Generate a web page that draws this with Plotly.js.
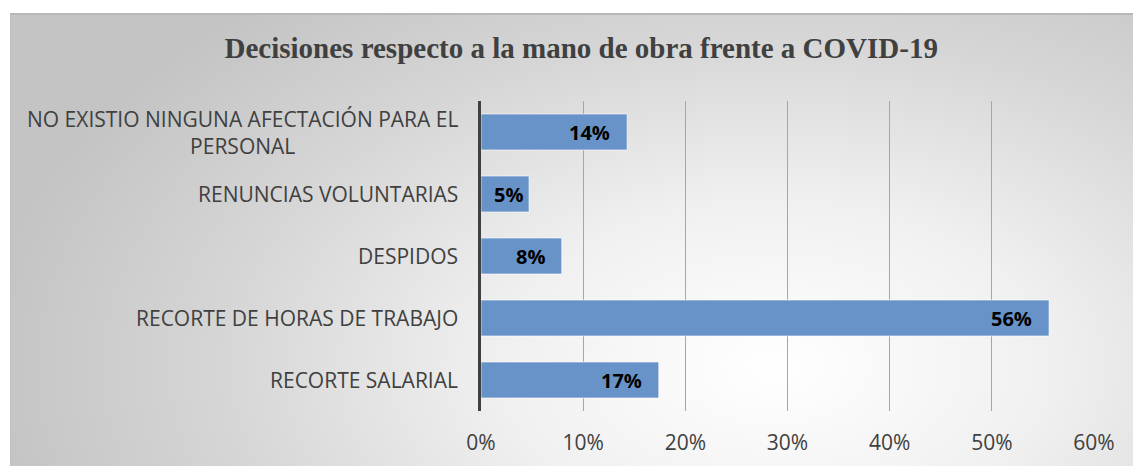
<!DOCTYPE html>
<html>
<head>
<meta charset="utf-8">
<script src="https://cdn.plot.ly/plotly-3.0.1.min.js"></script>
<style>
  html, body { margin: 0; padding: 0; background: #ffffff; }
  #wrap { position: relative; width: 1133px; height: 466px; overflow: hidden; }
  #bg {
    position: absolute; left: 10px; top: 13px; width: 1123px; height: 453px;
    border-top: 2px solid #b8b8b8; border-left: 1px solid #c0c0c0; box-sizing: border-box;
    background: radial-gradient(ellipse 70% 105% at 68% 78%, #ffffff 0%, #f0f0f0 35%, #d6d6d6 70%, #c4c4c4 100%);
  }
  #chart { position: absolute; left: 0; top: 0; width: 1133px; height: 466px; }
</style>
</head>
<body>
<div id="wrap">
  <div id="bg"></div>
  <div id="chart"></div>
</div>
<script>
const categories = [
  "NO EXISTIO NINGUNA AFECTACIÓN PARA EL<br>PERSONAL",
  "RENUNCIAS VOLUNTARIAS",
  "DESPIDOS",
  "RECORTE DE HORAS DE TRABAJO",
  "RECORTE SALARIAL"
];
const values = [0.143, 0.047, 0.079, 0.556, 0.174];
const valueLabels = ["14%", "5%", "8%", "56%", "17%"];
const tickValues = [0, 0.1, 0.2, 0.3, 0.4, 0.5, 0.6];
const tickLabels = ["0%", "10%", "20%", "30%", "40%", "50%", "60%"];
const chartTitle = "Decisiones respecto a la mano de obra frente a COVID-19";

const trace = {
  type: "bar",
  orientation: "h",
  x: values,
  y: categories,
  marker: { color: "#6893c8", line: { color: "rgba(255,255,255,0.6)", width: 1 } },
  hoverinfo: "skip"
};

// plot width in px and x range, used only to decide label padding for narrow bars
const plotWidthPx = 1133 - 481 - 39;
const xMax = 0.6;

const annotations = [];
categories.forEach((c, i) => {
  annotations.push({
    xref: "paper", yref: "y", x: 0, y: c, xanchor: "right", yanchor: "middle",
    xshift: -21, text: c, showarrow: false, align: "center",
    font: { family: "Open Sans, sans-serif", size: 21, color: "#404040" }
  });
  const barPx = values[i] / xMax * plotWidthPx;
  annotations.push({
    xref: "x", yref: "y", x: values[i], y: c, xanchor: "right", yanchor: "middle",
    xshift: barPx < 60 ? -4 : -15, text: "<b>" + valueLabels[i] + "</b>", showarrow: false,
    font: { family: "Open Sans, sans-serif", size: 20, color: "#000000" }
  });
});

const layout = {
  width: 1133, height: 466,
  paper_bgcolor: "rgba(0,0,0,0)",
  plot_bgcolor: "rgba(0,0,0,0)",
  margin: { l: 481, r: 39, t: 101, b: 55 },
  showlegend: false,
  title: {
    text: "<b>" + chartTitle + "</b>",
    x: 0.513, xanchor: "center", xref: "container",
    y: 0.897, yanchor: "middle", yref: "container",
    font: { family: "Liberation Serif, Times New Roman, serif", size: 29, color: "#404040" }
  },
  bargap: 0.42,
  xaxis: {
    range: [0, 0.6],
    tickvals: tickValues, ticktext: tickLabels,
    showgrid: true, gridcolor: "#a6a6a6", gridwidth: 1,
    zeroline: false, showline: false,
    ticks: "outside", ticklen: 13, tickcolor: "rgba(0,0,0,0)",
    tickfont: { family: "Open Sans, sans-serif", size: 21, color: "#404040" },
    fixedrange: true
  },
  yaxis: {
    type: "category",
    autorange: "reversed",
    showticklabels: false,
    showgrid: false, zeroline: false,
    showline: true, linecolor: "#404040", linewidth: 3,
    ticks: "",
    fixedrange: true
  },
  annotations: annotations
};

Plotly.newPlot("chart", [trace], layout, { displayModeBar: false, staticPlot: true });
</script>
</body>
</html>
